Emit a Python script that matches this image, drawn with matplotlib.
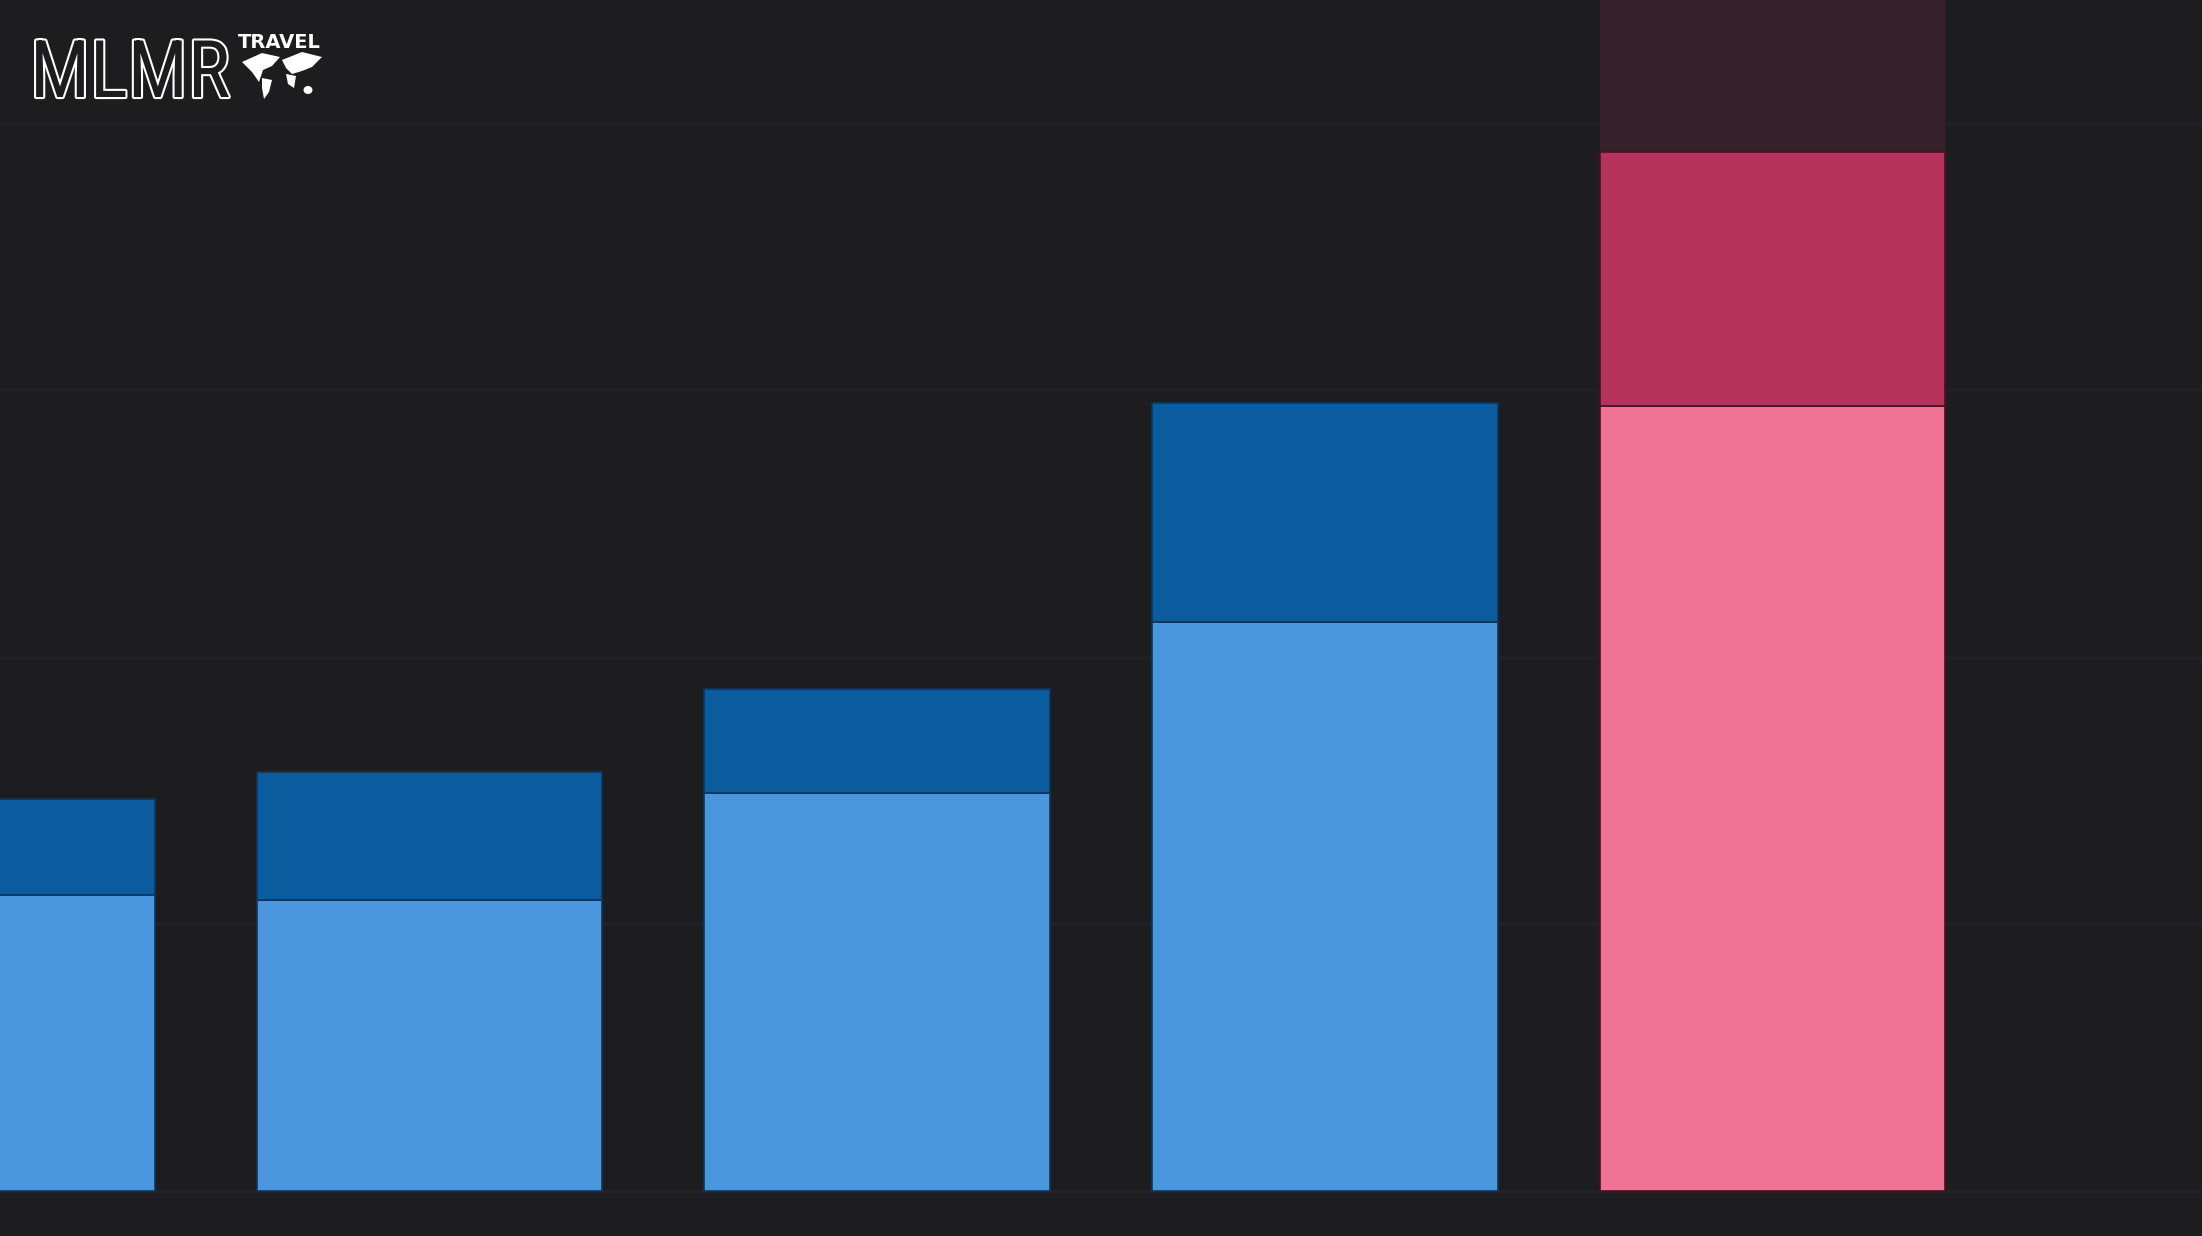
import matplotlib
matplotlib.use("Agg")
import matplotlib.pyplot as plt
import matplotlib.patheffects as pe
from matplotlib.patches import Ellipse, Polygon
from matplotlib import font_manager
import numpy as np

# ---- data (gridline step = 100 units) ----
categories = ["1", "2", "3", "4", "5"]
base_values = [111, 109, 149, 213, 294]      # lower (light) segment
top_values = [36, 48, 39, 82, 95]            # upper (dark) segment
extra_values = [0, 0, 0, 0, 80]              # faint segment above last bar
highlight = [False, False, False, False, True]
grid_ticks = [0, 100, 200, 300, 400]

BG = "#1d1d20"
GRID = "#222226"
LIGHT_BLUE = "#4b97de"
DARK_BLUE = "#0a5c9e"
PINK = "#f07294"
RED = "#b5335a"
FAINT = "#36212a"

fig = plt.figure(figsize=(22.02, 12.36), dpi=100, facecolor=BG)
ax = fig.add_axes([0, 0, 1, 1])
ax.set_facecolor(BG)

x = np.arange(len(categories))
width = 0.772
base_colors = [PINK if h else LIGHT_BLUE for h in highlight]
top_colors = [RED if h else DARK_BLUE for h in highlight]
edge_colors = ["#4a0f24" if h else "#0b3560" for h in highlight]

ax.bar(x, base_values, width, color=base_colors, edgecolor=edge_colors,
       linewidth=1.2, zorder=3)
ax.bar(x, top_values, width, bottom=base_values, color=top_colors,
       edgecolor=edge_colors, linewidth=1.2, zorder=3)
totals = np.array(base_values) + np.array(top_values)
ax.bar(x, extra_values, width, bottom=totals, color=FAINT, linewidth=0,
       zorder=2)

ax.set_xlim(0.0402, 4.960)
ax.set_ylim(-16.85, 446.1)
ax.set_yticks(grid_ticks)
ax.set_xticks([])
ax.yaxis.grid(True, color=GRID, linewidth=2.5, zorder=0)
ax.tick_params(left=False, labelleft=False, bottom=False, labelbottom=False)
for s in ax.spines.values():
    s.set_visible(False)

# ---- logo ----
installed = {f.name for f in font_manager.fontManager.ttflist}
logo_family = "Roboto Condensed" if "Roboto Condensed" in installed else "DejaVu Sans"
logo = fig.text(30 / 2202, 1 - 97 / 1236, "MLMR", fontsize=64, color=BG,
                family=logo_family, fontweight="normal", ha="left", va="baseline",
                path_effects=[pe.Stroke(linewidth=3.0, foreground="white"),
                              pe.Normal()])
renderer = fig.canvas.get_renderer()
w = logo.get_window_extent(renderer).width
target_w = 200.0
if w > target_w:
    logo.set_fontsize(64 * target_w / w)

fig.text(238 / 2202, 1 - 48 / 1236, "TRAVEL", fontsize=14, color="white",
         family="DejaVu Sans", fontweight="bold", ha="left", va="baseline")
# simple world-map glyph
shapes = [
    [(242, 62), (262, 53), (280, 57), (272, 66), (263, 70), (259, 82), (252, 72)],
    [(262, 78), (272, 80), (269, 92), (264, 99), (262, 88)],
    [(282, 60), (302, 52), (322, 57), (312, 67), (302, 71), (292, 74), (286, 68)],
    [(286, 74), (296, 76), (294, 88), (288, 84)],
]
for pts in shapes:
    fig.patches.append(Polygon([(px / 2202, 1 - py / 1236) for px, py in pts],
                               closed=True, transform=fig.transFigure,
                               facecolor="white", edgecolor="none"))
fig.patches.append(Ellipse((308 / 2202, 1 - 90 / 1236), 9 / 2202, 8 / 1236,
                           transform=fig.transFigure, facecolor="white"))

fig.savefig("out.png", dpi=100, facecolor=BG)
